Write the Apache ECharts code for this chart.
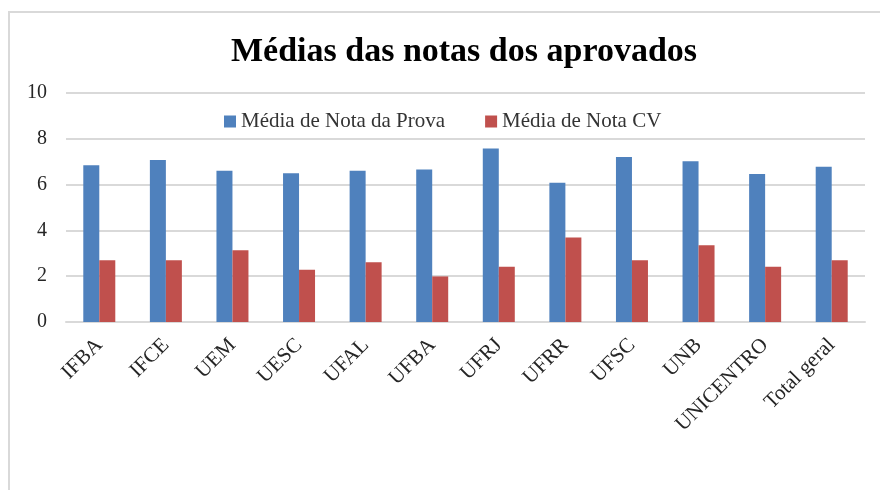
<!DOCTYPE html>
<html>
<head>
<meta charset="utf-8">
<script src="https://cdn.jsdelivr.net/npm/echarts@6/dist/echarts.min.js"></script>
<style>
  html, body { margin: 0; padding: 0; background: #fff; }
  #chart { width: 880px; height: 490px; }
</style>
</head>
<body>
<div id="chart"></div>
<script>
var categories = ['IFBA', 'IFCE', 'UEM', 'UESC', 'UFAL', 'UFBA', 'UFRJ', 'UFRR', 'UFSC', 'UNB', 'UNICENTRO', 'Total geral'];
var notaProva = [6.84, 7.07, 6.60, 6.50, 6.60, 6.66, 7.58, 6.08, 7.21, 7.02, 6.46, 6.78];
var notaCV = [2.70, 2.70, 3.13, 2.28, 2.61, 1.99, 2.41, 3.69, 2.70, 3.35, 2.41, 2.70];

var chart = echarts.init(document.getElementById('chart'));

var fontFam = '"Liberation Serif", "Times New Roman", serif';

var option = {
  animation: false,
  title: {
    text: 'Médias das notas dos aprovados',
    left: 459,
    textAlign: 'center',
    top: 30,
    textStyle: {
      fontFamily: fontFam,
      fontWeight: 'bold',
      fontSize: 34,
      color: '#000'
    }
  },
  legend: {
    top: 106,
    left: 219,
    itemWidth: 12,
    itemHeight: 12,
    itemGap: 40,
    icon: 'rect',
    textStyle: {
      fontFamily: fontFam,
      fontSize: 21,
      color: '#333'
    },
    data: ['Média de Nota da Prova', 'Média de Nota CV']
  },
  graphic: [{
    type: 'rect',
    shape: { x: 9, y: 12, width: 900, height: 500 },
    style: { fill: 'none', stroke: '#d9d9d9', lineWidth: 2 },
    silent: true
  }],
  grid: {
    left: 66,
    right: 15,
    top: 93,
    bottom: 168
  },
  xAxis: {
    type: 'category',
    data: categories,
    axisTick: { show: false },
    axisLine: { lineStyle: { color: '#d9d9d9', width: 2 } },
    axisLabel: {
      rotate: 45,
      interval: 0,
      margin: 20,
      fontFamily: fontFam,
      fontSize: 21,
      color: '#262626'
    }
  },
  yAxis: {
    type: 'value',
    min: 0,
    max: 10,
    interval: 2,
    axisLine: { show: false },
    axisTick: { show: false },
    splitLine: { lineStyle: { color: '#d9d9d9', width: 2 } },
    axisLabel: {
      margin: 19,
      fontFamily: fontFam,
      fontSize: 20,
      color: '#262626'
    }
  },
  series: [
    {
      name: 'Média de Nota da Prova',
      type: 'bar',
      data: notaProva,
      barWidth: 16,
      barGap: '0%',
      itemStyle: { color: '#4f81bd' }
    },
    {
      name: 'Média de Nota CV',
      type: 'bar',
      data: notaCV,
      barWidth: 16,
      itemStyle: { color: '#c0504d' }
    }
  ]
};

chart.setOption(option);
</script>
</body>
</html>
